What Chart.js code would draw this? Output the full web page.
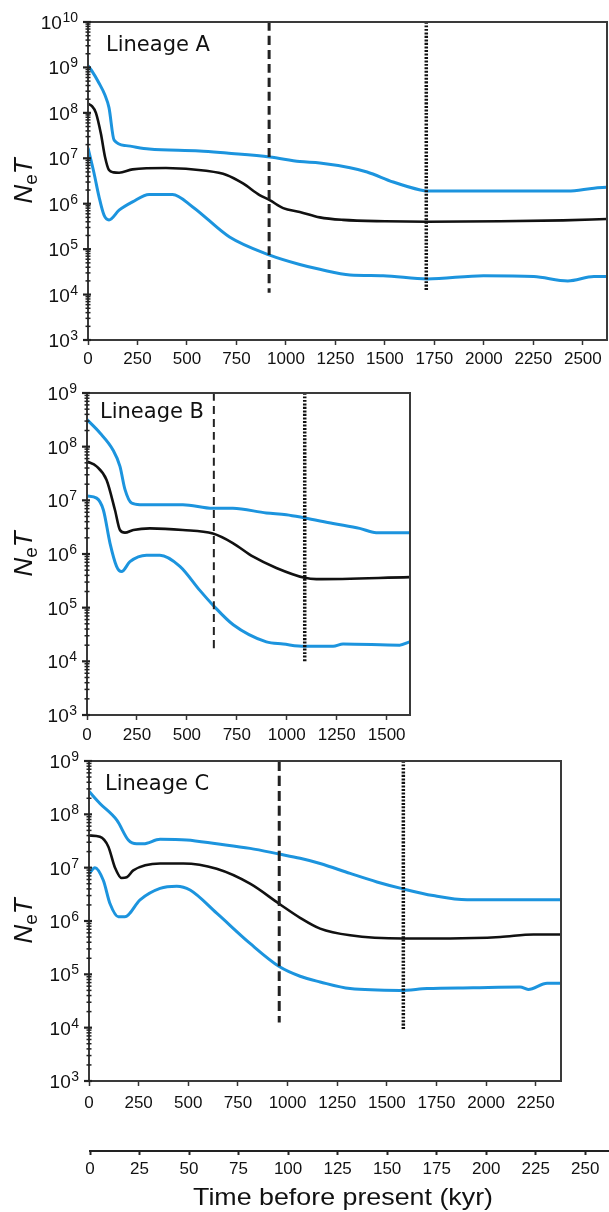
<!DOCTYPE html>
<html><head><meta charset="utf-8">
<script src="https://cdn.jsdelivr.net/npm/chart.js@4.4.1/dist/chart.umd.min.js"></script>
<style>
html,body{margin:0;padding:0;background:#fff;}
body{width:609px;height:1212px;position:relative;overflow:hidden;}
canvas{position:absolute;left:0;display:block;}
</style></head><body>
<canvas id="ca" width="609" height="365" style="top:0px;width:609px;height:365px"></canvas>
<canvas id="cb" width="609" height="380" style="top:368px;width:609px;height:380px"></canvas>
<canvas id="cc" width="609" height="380" style="top:740px;width:609px;height:380px"></canvas>
<canvas id="cd" width="609" height="82" style="top:1130px;width:609px;height:82px"></canvas>
<script>
// ---------- tick labels ----------
const xTicksA = [0,250,500,750,1000,1250,1500,1750,2000,2250,2500];
const xTicksB = [0,250,500,750,1000,1250,1500];
const xTicksC = [0,250,500,750,1000,1250,1500,1750,2000,2250];
const xTicksKyr = [0,25,50,75,100,125,150,175,200,225,250];
const yExpA = [3,4,5,6,7,8,9,10];
const yExpBC = [3,4,5,6,7,8,9];
const axisTitle = "Time before present (kyr)";

// ---------- Lineage A ----------
const aUpperT = [0,17,56,85,106,132,192,309,563,700,918,1070,1171,1324,1410,1542,1679,1714,2000,2424,2556,2620];
const aUpperV = [1.1e9,8.7e8,4.5e8,2.5e8,1.3e8,2.5e7,1.9e7,1.6e7,1.45e7,1.3e7,1.07e7,8.5e6,7.9e6,6.2e6,5e6,3e6,2e6,1.9e6,1.9e6,1.9e6,2.2e6,2.3e6];
const aMedT = [0,20,40,65,86,106,130,157,225,394,597,700,783,867,918,986,1070,1171,1288,1500,1714,2084,2400,2620];
const aMedV = [1.6e8,1.4e8,1e8,3.5e7,1.07e7,5.5e6,4.9e6,4.8e6,5.7e6,6.1e6,5.3e6,4.3e6,2.8e6,1.55e6,1.2e6,8e5,6.6e5,5e5,4.4e5,4.1e5,4e5,4.1e5,4.3e5,4.6e5];
const aLowerT = [0,30,56,81,106,157,225,309,427,529,715,918,1070,1171,1324,1491,1714,1998,2252,2424,2556,2620];
const aLowerV = [1.7e7,4.8e6,1.4e6,5.6e5,4.4e5,7.2e5,1.1e6,1.6e6,1.6e6,8.5e5,1.85e5,7.4e4,4.6e4,3.6e4,2.7e4,2.6e4,2.2e4,2.6e4,2.5e4,2e4,2.5e4,2.5e4];
const aDashed = [915, 1e10, 1.1e4];   // time, top, bottom
const aDotted = [1709, 1e10, 1.2e4];

// ---------- Lineage B ----------
const bUpperT = [0,65,130,165,190,223,265,480,630,730,898,998,1090,1232,1365,1448,1615];
const bUpperV = [3.2e8,1.8e8,8.7e7,4.3e7,1.6e7,8.9e6,8.3e6,8.3e6,7.1e6,7.1e6,5.8e6,5.4e6,4.7e6,3.7e6,3e6,2.5e6,2.5e6];
const bMedT = [0,48,98,140,165,190,232,315,480,630,730,832,948,1090,1148,1615];
const bMedV = [5.3e7,4.3e7,2.4e7,6.6e6,2.8e6,2.5e6,2.8e6,3e6,2.8e6,2.4e6,1.6e6,8.9e5,5.5e5,3.6e5,3.4e5,3.7e5];
const bLowerT = [0,48,82,115,148,173,215,298,365,465,565,632,732,898,982,1090,1232,1282,1565,1615];
const bLowerV = [1.2e7,1.1e7,6.6e6,1.6e6,5.9e5,4.7e5,7.2e5,9.5e5,9.5e5,5.9e5,2.1e5,1.1e5,4.8e4,2.3e4,2.1e4,1.9e4,1.9e4,2.1e4,2e4,2.3e4];
const bDashed = [635, 1e9, 1.45e4];
const bDotted = [1090, 1e9, 1e4];

// ---------- Lineage C ----------
const cUpperT = [0,55,141,198,240,274,358,492,643,811,958,1063,1164,1315,1450,1582,1733,1904,2378];
const cUpperV = [2.7e8,1.6e8,7.7e7,3.3e7,2.8e7,2.8e7,3.4e7,3.3e7,2.8e7,2.3e7,1.8e7,1.5e7,1.2e7,7.8e6,5.4e6,4e6,3e6,2.5e6,2.5e6];
const cMedT = [0,55,97,131,164,190,223,358,475,643,811,958,1063,1164,1315,1582,1819,2071,2238,2378];
const cMedV = [4e7,3.8e7,2.5e7,1e7,6.4e6,6.6e6,8.9e6,1.2e7,1.2e7,9.5e6,5e6,2.1e6,1.15e6,7.2e5,5.4e5,4.7e5,4.7e5,5e5,5.6e5,5.6e5];
const cLowerT = [0,30,72,106,148,181,257,358,442,509,643,811,958,1063,1164,1315,1567,1703,1935,2171,2212,2307,2378];
const cLowerV = [7.7e6,1e7,5.8e6,2.1e6,1.2e6,1.2e6,2.5e6,4.1e6,4.5e6,3.8e6,1.4e6,3.8e5,1.4e5,9.2e4,7.2e4,5.4e4,5e4,5.4e4,5.6e4,5.8e4,5.2e4,6.8e4,6.8e4];
const cDashed = [958, 1e9, 1.25e4];
const cDotted = [1583, 1e9, 9e3];

const BLUE = '#1c94de';
const BLACK = '#111111';

function pts(t, v){ return t.map((x,i)=>({x:x, y:v[i]})); }
function vline(a){ return [{x:a[0], y:a[1]}, {x:a[0], y:a[2]}]; }

const panelPlugin = {
  id: 'panel',
  afterDraw(chart){
    const o = chart.options.plugins.panel;
    if (!o || !o.on) return;
    const ctx = chart.ctx, a = chart.chartArea, y = chart.scales.y;
    ctx.save();
    // frame
    ctx.strokeStyle = '#3a3a3a'; ctx.lineWidth = 2;
    ctx.strokeRect(a.left, a.top, a.right - a.left, a.bottom - a.top);
    // y ticks
    ctx.strokeStyle = '#222';
    o.exps.forEach((e, idx) => {
      const yp = y.getPixelForValue(Math.pow(10, e));
      ctx.lineWidth = 2.2;
      ctx.beginPath(); ctx.moveTo(a.left - 5, yp); ctx.lineTo(a.left + 3, yp); ctx.stroke();
      if (idx < o.exps.length - 1) {
        ctx.lineWidth = 1.5;
        for (let m = 2; m <= 9; m++) {
          const ym = y.getPixelForValue(m * Math.pow(10, e));
          ctx.beginPath(); ctx.moveTo(a.left - 2.5, ym); ctx.lineTo(a.left + 2.5, ym); ctx.stroke();
        }
      }
      // label 10^e
      ctx.fillStyle = '#111';
      ctx.textBaseline = 'alphabetic';
      ctx.textAlign = 'right';
      const supRight = a.left - 10;
      ctx.font = '14px "Liberation Sans", Arial, sans-serif';
      const sup = String(e);
      const sw = ctx.measureText(sup).width;
      ctx.fillText(sup, supRight, yp);
      ctx.font = '19px "Liberation Sans", Arial, sans-serif';
      ctx.fillText('10', supRight - sw - 0.5, yp + 7);
    });
    // y title  N_e T
    ctx.save();
    ctx.translate(32, (a.top + a.bottom) / 2);
    ctx.rotate(-Math.PI / 2);
    ctx.textAlign = 'left'; ctx.textBaseline = 'alphabetic';
    const fN = 'italic 26px "Liberation Sans", Arial, sans-serif';
    const fe = '19px "Liberation Sans", Arial, sans-serif';
    ctx.font = fN; const wN = ctx.measureText('N').width; const wT = ctx.measureText('T').width;
    ctx.font = fe; const we = ctx.measureText('e').width;
    let x0 = -(wN + we + wT) / 2;
    ctx.font = fN; ctx.fillText('N', x0, 0);
    ctx.font = fe; ctx.fillText('e', x0 + wN, 5);
    ctx.font = fN; ctx.fillText('T', x0 + wN + we, 0);
    ctx.restore();
    // lineage label
    ctx.font = '21px "DejaVu Sans", sans-serif';
    ctx.textAlign = 'left'; ctx.fillStyle = '#111';
    ctx.fillText(o.label, o.labelX, a.top + o.labelDy);
    ctx.restore();
  }
};
Chart.register(panelPlugin);

function makePanel(id, cfg){
  const ds = [
    {data: vline(cfg.dotted), borderColor:'#111', borderWidth:3.5, borderDash:[2,1.5], tension:0},
    {data: vline(cfg.dashed), borderColor:'#222', borderWidth:cfg.dashW, borderDash:cfg.dash, tension:0},
    {data: cfg.upper, borderColor:BLUE, borderWidth:3},
    {data: cfg.med, borderColor:BLACK, borderWidth:2.6},
    {data: cfg.lower, borderColor:BLUE, borderWidth:3}
  ];
  return new Chart(document.getElementById(id), {
    type: 'line',
    data: {datasets: ds},
    options: {
      responsive: false, animation: false, events: [],
      layout: {padding: {top: cfg.padTop, right: cfg.padRight, left: 0, bottom: 0}},
      elements: {point: {radius: 0}, line: {cubicInterpolationMode: 'monotone', fill: false}},
      plugins: {
        legend: {display: false}, tooltip: {enabled: false},
        panel: {on: true, exps: cfg.exps, label: cfg.label, labelX: cfg.labelX, labelDy: cfg.labelDy}
      },
      scales: {
        x: {
          type: 'linear', min: 0, max: cfg.xMax,
          afterBuildTicks: s => { s.ticks = cfg.xTicks.map(v => ({value: v})); },
          afterFit: s => { s.height = cfg.xH; },
          ticks: {autoSkip: false, maxRotation: 0, padding: cfg.tickPad, color: '#111',
                  callback: v => String(v),
                  font: {family: '"Liberation Sans", Arial, sans-serif', size: 17}},
          grid: {drawOnChartArea: false, drawTicks: true, tickLength: 5, tickColor: '#333', tickWidth: 1.5},
          border: {display: false}
        },
        y: {
          type: 'logarithmic', min: 1e3, max: Math.pow(10, cfg.exps[cfg.exps.length - 1]),
          afterFit: s => { s.width = cfg.yW; },
          ticks: {display: false},
          grid: {display: false},
          border: {display: false}
        }
      }
    }
  });
}

makePanel('ca', {
  upper: pts(aUpperT, aUpperV), med: pts(aMedT, aMedV), lower: pts(aLowerT, aLowerV),
  dashed: aDashed, dotted: aDotted, dash: [9,5], dashW: 3,
  xTicks: xTicksA, xMax: 2622, exps: yExpA,
  padTop: 22, padRight: 2, yW: 88, xH: 25, tickPad: 4,
  label: 'Lineage A', labelX: 106, labelDy: 29
});
makePanel('cb', {
  upper: pts(bUpperT, bUpperV), med: pts(bMedT, bMedV), lower: pts(bLowerT, bLowerV),
  dashed: bDashed, dotted: bDotted, dash: [8,5], dashW: 2,
  xTicks: xTicksB, xMax: 1617, exps: yExpBC,
  padTop: 25, padRight: 199, yW: 87, xH: 33, tickPad: 5,
  label: 'Lineage B', labelX: 100, labelDy: 25
});
makePanel('cc', {
  upper: pts(cUpperT, cUpperV), med: pts(cMedT, cMedV), lower: pts(cLowerT, cLowerV),
  dashed: cDashed, dotted: cDotted, dash: [10,5], dashW: 3,
  xTicks: xTicksC, xMax: 2377, exps: yExpBC,
  padTop: 21, padRight: 48, yW: 89, xH: 39, tickPad: 7,
  label: 'Lineage C', labelX: 105, labelDy: 29
});

// bottom kyr axis
const titlePlugin = {
  id: 'kyrTitle',
  afterDraw(chart){
    const o = chart.options.plugins.kyrTitle;
    if (!o || !o.on) return;
    const ctx = chart.ctx;
    ctx.save();
    ctx.font = '24px "Liberation Sans", Arial, sans-serif';
    ctx.fillStyle = '#111'; ctx.textBaseline = 'alphabetic'; ctx.textAlign = 'left';
    const w = ctx.measureText(o.text).width;
    const target = 300;
    ctx.translate(o.cx - target / 2, o.baseline);
    ctx.scale(target / w, 1);
    ctx.fillText(o.text, 0, 0);
    ctx.restore();
  }
};
Chart.register(titlePlugin);

new Chart(document.getElementById('cd'), {
  type: 'line',
  data: {datasets: [{data: []}]},
  options: {
    responsive: false, animation: false, events: [],
    layout: {padding: {top: 10, right: 0, left: 90, bottom: 0}},
    plugins: {legend: {display: false}, tooltip: {enabled: false},
              kyrTitle: {on: true, text: axisTitle, cx: 343, baseline: 75}},
    scales: {
      x: {
        type: 'linear', min: 0, max: 262,
        afterBuildTicks: s => { s.ticks = xTicksKyr.map(v => ({value: v})); },
        afterFit: s => { s.height = 61; },
        ticks: {autoSkip: false, maxRotation: 0, padding: 4, color: '#111',
                callback: v => String(v),
                font: {family: '"Liberation Sans", Arial, sans-serif', size: 17}},
        grid: {drawOnChartArea: false, drawTicks: true, tickLength: 4, tickColor: '#222', tickWidth: 2},
        border: {display: true, color: '#222', width: 2}
      },
      y: {display: false, min: 0, max: 1}
    }
  }
});
</script>
</body></html>
